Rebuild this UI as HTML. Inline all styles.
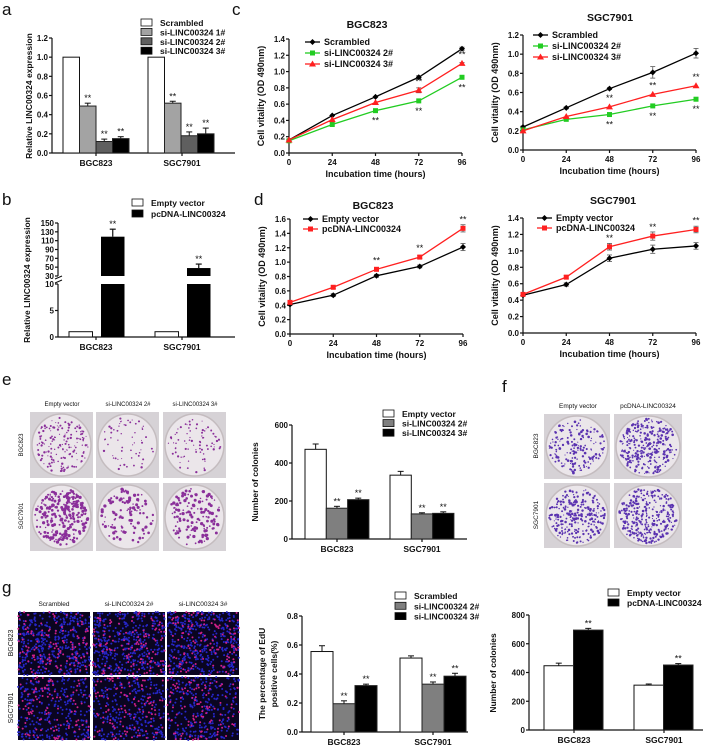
<!DOCTYPE html>
<html><head><meta charset="utf-8"><style>
html,body{margin:0;padding:0;background:#fff;}
svg{display:block;font-family:"Liberation Sans",Arial,sans-serif;}
</style></head><body>
<svg id="fig" width="703" height="745" viewBox="0 0 703 745" xmlns="http://www.w3.org/2000/svg"></svg>
<script>
// ---------- DATA ----------
const cats=['BGC823','SGC7901'];
const hours=[0,24,48,72,96];
// panel a
const aScr=[1,1], aSi1=[0.49,0.52], aSi2=[0.12,0.18], aSi3=[0.15,0.20];
const aErr1=[0.03,0.02], aErr2=[0.025,0.04], aErr3=[0.02,0.06];
const aTicks=['0.0','0.2','0.4','0.6','0.8','1.0','1.2'];
// panel b
const bEV=[1,1], bPc=[119,48], bPcErr=[17,9];
// panel c
const cBgcScr=[0.16,0.46,0.69,0.93,1.28], cBgcSi2=[0.15,0.35,0.52,0.64,0.93], cBgcSi3=[0.16,0.41,0.62,0.77,1.10];
const cSgcScr=[0.24,0.44,0.64,0.81,1.01], cSgcSi2=[0.21,0.32,0.37,0.46,0.53], cSgcSi3=[0.20,0.35,0.45,0.58,0.67];
const cSgcScrErr=[0.01,0.01,0.01,0.06,0.05];
// panel d
const dBgcEV=[0.41,0.54,0.81,0.94,1.21], dBgcPc=[0.44,0.65,0.90,1.07,1.47];
const dSgcEV=[0.46,0.59,0.91,1.02,1.06], dSgcPc=[0.47,0.68,1.05,1.18,1.26];
const dBgcErr=[0.01,0.02,0.02,0.02,0.05], dSgcErr=[0.01,0.02,0.04,0.05,0.04];
// panel e
const eEV=[472,336], eSi2=[162,132], eSi3=[207,135];
const eErrEV=[28,20], eErrSi2=[10,6], eErrSi3=[8,8];
// panel g
const gScr=[0.555,0.51], gSi2=[0.195,0.33], gSi3=[0.32,0.385];
const gErrScr=[0.04,0.015], gErrSi2=[0.02,0.015], gErrSi3=[0.01,0.02];
const hEV=[447,312], hPc=[695,452], hErrEV=[18,8], hErrPc=[12,10];

// ---------- HELPERS ----------
const NS='http://www.w3.org/2000/svg';
const svg=document.getElementById('fig');
function mk(tag,attrs,parent){const e=document.createElementNS(NS,tag);for(const k in attrs)e.setAttribute(k,attrs[k]);(parent||svg).appendChild(e);return e;}
function grp(name){const g=mk('g',{});return g;}
function txt(p,x,y,s,size,anchor,weight,rot){const t=mk('text',{x:x,y:y,'font-size':size,'text-anchor':anchor||'start','font-weight':weight||'bold',fill:'#111'},p);if(rot)t.setAttribute('transform','rotate(-90 '+x+' '+y+')');t.textContent=s;return t;}
function ln(p,x1,y1,x2,y2,c,w){return mk('line',{x1:x1,y1:y1,x2:x2,y2:y2,stroke:c||'#111','stroke-width':w||1.2},p);}

function yAxis(p,x,yOf,vals,labels,yTop,y0){
  const a=ln(p,x,y0,x,yTop);
  vals.forEach((v,i)=>{const y=yOf(v);ln(p,x-3,y,x,y);const t=txt(p,x-4,y+3,labels[i],8,'end');});
}
function legendBox(p,x,y,fill,label){
  const r=mk('rect',{x:x,y:y-4,width:11,height:7,fill:fill,stroke:'#111','stroke-width':0.8},p);
  
  const t=txt(p,x+19,y+3,label,8.5);
}
function stars(p,x,y){const t=txt(p,x,y,'**',9,'middle','normal');}

function barChart(o){
  const g=grp(o.name);
  const yOf=v=>o.y0-(v/o.vmax)*(o.y0-o.yTop);
  yAxis(g,o.x0,yOf,o.tickVals,o.tickLabels,o.yTop,o.y0);
  ln(g,o.x0,o.y0,o.x1,o.y0);
  o.series.forEach((s,j)=>{
    s.vals.forEach((v,i)=>{
      const x=o.groupX[i]+j*o.bw;const y=yOf(v);
      if(s.errs&&s.errs[i]){const ye=yOf(v+s.errs[i]);ln(g,x+o.bw/2,y,x+o.bw/2,ye,'#111',1);ln(g,x+o.bw/2-3,ye,x+o.bw/2+3,ye,'#111',1);}
      const r=mk('rect',{x:x,y:y,width:o.bw,height:o.y0-y,fill:s.fill,stroke:s.fill==='#fff'?'#111':'#222','stroke-width':1},g);
      
      
      if(s.star){const ye=yOf(v+(s.errs?s.errs[i]:0));stars(g,x+o.bw/2,ye-2);}
    });
  });
  cats.forEach((c,i)=>{const cx=o.catX[i];ln(g,cx,o.y0,cx,o.y0+3);const t=txt(g,cx,o.y0+13,c,8.5,'middle');});
  o.legend.forEach((l,k)=>legendBox(g,o.legX,o.legY+k*o.legDy,l[0],l[1]));
  const yt=txt(g,o.ytX,o.ytY,o.ytitle,8.5,'middle','bold',true);
  if(o.ytitle2){const y2=txt(g,o.ytX+12,o.ytY,o.ytitle2,8.5,'middle','bold',true);}
  return g;
}

function marker(p,type,x,y,c){
  let m;
  if(type==='sq')m=mk('rect',{x:x-2.5,y:y-2.5,width:5,height:5,fill:c},p);
  else if(type==='tri')m=mk('polygon',{points:(x)+','+(y-3.5)+' '+(x+3.5)+','+(y+2.5)+' '+(x-3.5)+','+(y+2.5),fill:c},p);
  else m=mk('polygon',{points:x+','+(y-3)+' '+(x+3)+','+y+' '+x+','+(y+3)+' '+(x-3)+','+y,fill:c},p);
  
}
function lineChart(o){
  const g=grp(o.name);
  const yOf=v=>o.y0-(v/o.vmax)*(o.y0-o.yTop);
  const xOf=h=>o.x0+(h/96)*(o.x1-o.x0);
  const tv=[],tl=[];for(let v=0;v<=o.vmax+1e-9;v+=0.2){tv.push(v);tl.push(v.toFixed(1));}
  yAxis(g,o.x0,yOf,tv,tl,o.yTop,o.y0);
  ln(g,o.x0,o.y0,o.x1,o.y0);
  hours.forEach(h=>{const x=xOf(h);ln(g,x,o.y0,x,o.y0+3);const t=txt(g,x,o.y0+12,String(h),8,'middle');});
  const xt=txt(g,(o.x0+o.x1)/2,o.y0+24,'Incubation time (hours)',9,'middle');
  const yt=txt(g,o.x0-25,(o.y0+o.yTop)/2,'Cell vitality (OD 490nm)',9,'middle','bold',true);
  const tt=txt(g,o.titleX,o.titleY,o.title,10.5,'middle');
  o.series.forEach(s=>{
    const pts=s.vals.map((v,i)=>xOf(hours[i])+','+yOf(v)).join(' ');
    const pl=mk('polyline',{points:pts,fill:'none',stroke:s.color,'stroke-width':1.3},g);
    
    
    s.vals.forEach((v,i)=>{const x=xOf(hours[i]);
      if(s.errs&&s.errs[i]){const a=yOf(v+s.errs[i]),b=yOf(v-s.errs[i]);ln(g,x,a,x,b,'#555',0.8);ln(g,x-2.5,a,x+2.5,a,'#555',0.8);ln(g,x-2.5,b,x+2.5,b,'#555',0.8);}
      marker(g,s.marker,x,yOf(v),s.color);
      if(s.stars&&s.stars[i])stars(g,x,s.stars[i]>0?yOf(v)-6:yOf(v)+13);
    });
  });
  o.series.forEach((s,k)=>{const y=o.legY+k*o.legDy;ln(g,o.legX,y,o.legX+15,y,s.color,1.3);marker(g,s.marker,o.legX+7.5,y,s.color);
    const t=txt(g,o.legX+19,y+3,s.label,9);});
}

// deterministic pseudo-random for photo texture
let seed=7;function rnd(){seed=(seed*16807)%2147483647;return seed/2147483647;}
function plate(p,x,y,w,h,n,color,r){
  const g=mk('g',{},p);
  mk('rect',{x:x,y:y,width:w,height:h,fill:'#d6d2d6'},g);
  mk('ellipse',{cx:x+w/2,cy:y+h/2,rx:w/2-2,ry:h/2-2,fill:'#ebe6ea',stroke:'#c4bcbf','stroke-width':1.5},g);
  for(let i=0;i<n;i++){const a=rnd()*6.283,d=Math.sqrt(rnd())*(w/2-5);mk('circle',{cx:x+w/2+Math.cos(a)*d,cy:y+h/2+Math.sin(a)*d*(h/w),r:r*(0.5+rnd()*0.7),fill:color},g);}
}
function edu(p,x,y,w,h,nb,nr){
  const g=mk('g',{},p);
  mk('rect',{x:x,y:y,width:w,height:h,fill:'#0a0520'},g);
  for(let i=0;i<nb;i++)mk('circle',{cx:x+rnd()*w,cy:y+rnd()*h,r:1,fill:'#2626c8'},g);
  for(let i=0;i<nr;i++)mk('circle',{cx:x+rnd()*w,cy:y+rnd()*h,r:1,fill:'#d0208a'},g);
}
function letter(s,x,y){const t=txt(svg,x,y,s,17,'start','normal');}

// ---------- PANEL a ----------
letter('a',2,15);
barChart({name:'panel-a-chart',x0:52,x1:235,y0:153,yTop:38,vmax:1.2,tickVals:[0,0.2,0.4,0.6,0.8,1.0,1.2],tickLabels:aTicks,
  groupX:[63,148],bw:16.5,catX:[96,182],
  series:[{key:'scrambled',vals:aScr,fill:'#fff'},{key:'si1',vals:aSi1,errs:aErr1,fill:'#a3a3a3',star:1},{key:'si2',vals:aSi2,errs:aErr2,fill:'#5f5f5f',star:1},{key:'si3',vals:aSi3,errs:aErr3,fill:'#000',star:1}],
  legend:[['#fff','Scrambled'],['#a3a3a3','si-LINC00324 1#'],['#5f5f5f','si-LINC00324 2#'],['#000','si-LINC00324 3#']],legX:141,legY:23,legDy:9.4,
  ytitle:'Relative LINC00324 expression',ytX:32,ytY:96});

// ---------- PANEL b (broken axis) ----------
letter('b',2,205);
(function(){
  const g=grp('panel-b-chart');
  const ax=58;
  const yOf=v=>v<=10?337-v*(337-284)/10:276-(v-30)*(276-223)/120;
  ln(g,ax,337,ax,284);ln(g,ax,276,ax,223);
  [0,5,10,30,50,70,90,110,130,150].forEach(v=>{const y=yOf(v);ln(g,ax-3,y,ax,y);const t=txt(g,ax-4,y+3,String(v),8,'end');});
  ln(g,ax-3,283,ax+4,280,'#111',1);ln(g,ax-3,279,ax+4,276,'#111',1);
  ln(g,ax,337,235,337);
  const gx=[69,155],bw=23.5;
  [[bEV,'#fff','empty-vector',0],[bPc,'#000','pcdna',32]].forEach(([vals,fill,key,off])=>{
    vals.forEach((v,i)=>{const x=gx[i]+off;
      if(v<=10){const r=mk('rect',{x:x,y:yOf(v),width:bw,height:337-yOf(v),fill:fill,stroke:'#111','stroke-width':1},g);}
      else{const ye=yOf(v+bPcErr[i]);ln(g,x+bw/2,yOf(v),x+bw/2,ye);ln(g,x+bw/2-3,ye,x+bw/2+3,ye);
        const r1=mk('rect',{x:x,y:284,width:bw,height:53,fill:fill},g);
        const r2=mk('rect',{x:x,y:yOf(v),width:bw,height:276-yOf(v),fill:fill},g);
        stars(g,x+bw/2,ye-2);}
    });
  });
  [96,182].forEach((cx,i)=>{ln(g,cx,337,cx,340);const t=txt(g,cx,350,cats[i],8.5,'middle');});
  legendBox(g,132,203,'#fff','Empty vector');legendBox(g,132,214,'#000','pcDNA-LINC00324');
  const yt=txt(g,30,280,'Relative LINC00324 expression',8.5,'middle','bold',true);
})();

// ---------- PANEL c ----------
letter('c',232,15);
lineChart({name:'panel-c-bgc823',x0:289,x1:462,y0:153,yTop:39,vmax:1.4,title:'BGC823',titleX:367,titleY:28,legX:305,legY:42,legDy:11,
  series:[{key:'scrambled',label:'Scrambled',vals:cBgcScr,color:'#000',marker:'dia',errs:[0,0,0,0.02,0.02]},
          {key:'si2',label:'si-LINC00324 2#',vals:cBgcSi2,color:'#22cc22',marker:'sq',stars:[0,0,-1,-1,-1]},
          {key:'si3',label:'si-LINC00324 3#',vals:cBgcSi3,color:'#ff2020',marker:'tri',errs:[0,0,0,0.03,0.01],stars:[0,0,0,1,1]}]});
lineChart({name:'panel-c-sgc7901',x0:523,x1:696,y0:150,yTop:35,vmax:1.2,title:'SGC7901',titleX:610,titleY:21,legX:533,legY:35,legDy:11,
  series:[{key:'scrambled',label:'Scrambled',vals:cSgcScr,color:'#000',marker:'dia',errs:cSgcScrErr},
          {key:'si2',label:'si-LINC00324 2#',vals:cSgcSi2,color:'#22cc22',marker:'sq',stars:[0,0,-1,-1,-1]},
          {key:'si3',label:'si-LINC00324 3#',vals:cSgcSi3,color:'#ff2020',marker:'tri',stars:[0,0,1,1,1]}]});

// ---------- PANEL d ----------
letter('d',254,205);
lineChart({name:'panel-d-bgc823',x0:290,x1:463,y0:334,yTop:219,vmax:1.6,title:'BGC823',titleX:373,titleY:209,legX:303,legY:219,legDy:10,
  series:[{key:'empty-vector',label:'Empty vector',vals:dBgcEV,color:'#000',marker:'dia',errs:dBgcErr},
          {key:'pcdna',label:'pcDNA-LINC00324',vals:dBgcPc,color:'#ff2020',marker:'sq',errs:dBgcErr,stars:[0,0,1,1,1]}]});
lineChart({name:'panel-d-sgc7901',x0:523,x1:696,y0:333,yTop:218,vmax:1.4,title:'SGC7901',titleX:613,titleY:204,legX:537,legY:218,legDy:10,
  series:[{key:'empty-vector',label:'Empty vector',vals:dSgcEV,color:'#000',marker:'dia',errs:dSgcErr},
          {key:'pcdna',label:'pcDNA-LINC00324',vals:dSgcPc,color:'#ff2020',marker:'sq',errs:dSgcErr,stars:[0,0,1,1,1]}]});

// ---------- PANEL e ----------
letter('e',2,385);
(function(){
  const g=grp('panel-e-photos');
  const cols=[30,96,163],rows=[412,483],labs=['Empty vector','si-LINC00324 2#','si-LINC00324 3#'];
  const dens=[[160,60,80],[260,110,140]];
  cols.forEach((x,i)=>{const t=txt(g,x+32,406,labs[i],6,'middle','normal');});
  ['BGC823','SGC7901'].forEach((s,j)=>{const t=txt(g,23,rows[j]+33,s,6,'middle','normal',true);});
  rows.forEach((y,j)=>cols.forEach((x,i)=>plate(g,x,y,63,j?68:66,dens[j][i],'#8a2f9a',j?1.4:1.0)));
})();
barChart({name:'panel-e-chart',x0:292,x1:467,y0:539,yTop:425,vmax:600,tickVals:[0,200,400,600],tickLabels:['0','200','400','600'],
  groupX:[305,390],bw:21.3,catX:[337,422],
  series:[{key:'empty-vector',vals:eEV,errs:eErrEV,fill:'#fff'},{key:'si2',vals:eSi2,errs:eErrSi2,fill:'#7f7f7f',star:1},{key:'si3',vals:eSi3,errs:eErrSi3,fill:'#000',star:1}],
  legend:[['#fff','Empty vector'],['#7f7f7f','si-LINC00324 2#'],['#000','si-LINC00324 3#']],legX:383,legY:414,legDy:9.6,
  ytitle:'Number of colonies',ytX:258,ytY:482});

// ---------- PANEL f ----------
letter('f',502,392);
(function(){
  const g=grp('panel-f-photos');
  const cols=[544,614],rows=[414,483],labs=['Empty vector','pcDNA-LINC00324'];
  cols.forEach((x,i)=>{const t=txt(g,x+34,408,labs[i],6.5,'middle','normal');});
  ['BGC823','SGC7901'].forEach((s,j)=>{const t=txt(g,538,rows[j]+32,s,6.5,'middle','normal',true);});
  const dens=[[180,300],[260,320]];
  rows.forEach((y,j)=>cols.forEach((x,i)=>plate(g,x,y,i?68:66,65,dens[j][i],'#5a32b0',1.1)));
})();

// ---------- PANEL g ----------
letter('g',2,593);
(function(){
  const g=grp('panel-g-photos');
  const cols=[18,93,167],rows=[612,677],labs=['Scrambled','si-LINC00324 2#','si-LINC00324 3#'];
  cols.forEach((x,i)=>{const t=txt(g,x+36,606,labs[i],6.5,'middle','normal');});
  ['BGC823','SGC7901'].forEach((s,j)=>{const t=txt(g,13,rows[j]+31,s,7,'middle','normal',true);});
  rows.forEach((y,j)=>cols.forEach((x,i)=>edu(g,x,y,72,63,j?260:380,j?110:130)));
})();
barChart({name:'panel-g-edu-chart',x0:302,x1:468,y0:732,yTop:616,vmax:0.8,tickVals:[0,0.2,0.4,0.6,0.8],tickLabels:['0.0','0.2','0.4','0.6','0.8'],
  groupX:[311,400],bw:22,catX:[344,433],
  series:[{key:'scrambled',vals:gScr,errs:gErrScr,fill:'#fff'},{key:'si2',vals:gSi2,errs:gErrSi2,fill:'#7f7f7f',star:1},{key:'si3',vals:gSi3,errs:gErrSi3,fill:'#000',star:1}],
  legend:[['#fff','Scrambled'],['#7f7f7f','si-LINC00324 2#'],['#000','si-LINC00324 3#']],legX:395,legY:596,legDy:10.3,
  ytitle:'The percentage of EdU',ytitle2:'positive cells(%)',ytX:265,ytY:674});
barChart({name:'panel-g-colony-chart',x0:529,x1:703,y0:730,yTop:615,vmax:800,tickVals:[0,200,400,600,800],tickLabels:['0','200','400','600','800'],
  groupX:[544,634],bw:29.5,catX:[574,664],
  series:[{key:'empty-vector',vals:hEV,errs:hErrEV,fill:'#fff'},{key:'pcdna',vals:hPc,errs:hErrPc,fill:'#000',star:1}],
  legend:[['#fff','Empty vector'],['#000','pcDNA-LINC00324']],legX:608,legY:593,legDy:10,
  ytitle:'Number of colonies',ytX:496,ytY:673});
</script>
</body></html>
